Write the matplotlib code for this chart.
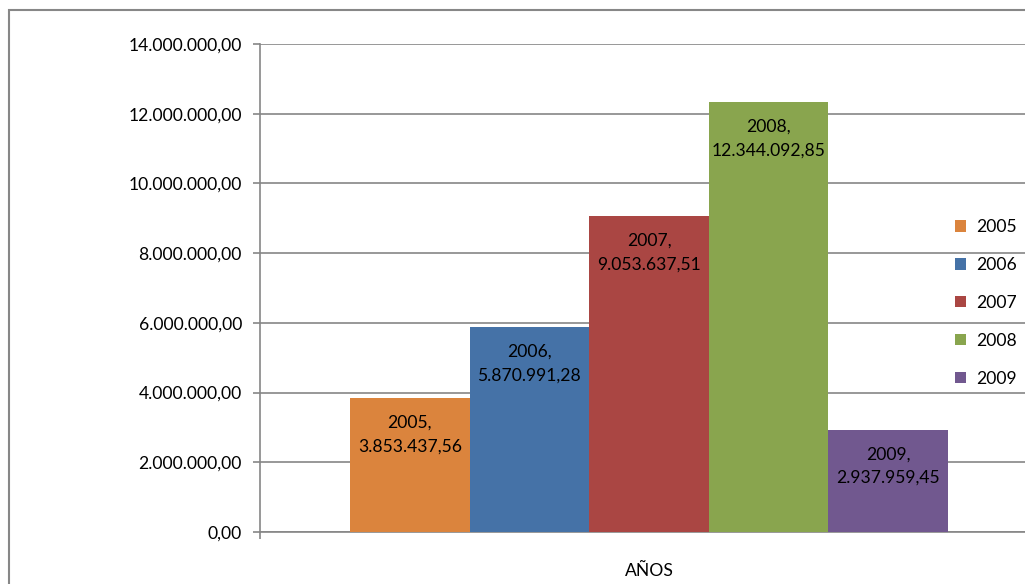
import matplotlib
matplotlib.use("Agg")
import matplotlib.pyplot as plt
from matplotlib.patches import Rectangle
from matplotlib.ticker import FuncFormatter

years = ["2005", "2006", "2007", "2008", "2009"]
values = [3853437.56, 5870991.28, 9053637.51, 12344092.85, 2937959.45]
colors = ["#DB843D", "#4572A7", "#AA4643", "#89A54E", "#71588F"]
category = "AÑOS"
yticks = [0, 2000000, 4000000, 6000000, 8000000, 10000000, 12000000, 14000000]

plt.rcParams['font.family'] = ['Lato', 'DejaVu Sans']

def es_fmt(v, pos=None):
    s = f"{v:,.2f}"
    return s.replace(",", "X").replace(".", ",").replace("X", ".")

W, H = 1025, 584
fig = plt.figure(figsize=(W / 100, H / 100), dpi=100)

# outer chart frame (extends past right/bottom edges)
fig.patches.append(Rectangle((9 / W, -0.05), 1.2, 1 - 10 / H + 0.05,
                             transform=fig.transFigure, fill=False,
                             edgecolor="#878787", linewidth=1.5, zorder=0))

ax_left, ax_right, ax_top, ax_bottom = 260, 1038, 44, 532
ax = fig.add_axes([ax_left / W, (H - ax_bottom) / H,
                   (ax_right - ax_left) / W, (ax_bottom - ax_top) / H])

FS = 12.6
bw = 598 / 778 / 5
for i, (yr, v, c) in enumerate(zip(years, values, colors)):
    x = (i - 2) * bw
    ax.bar(x, v, width=bw, color=c, zorder=3, label=yr)
    ax.annotate(f"{yr},\n{es_fmt(v)}", xy=(x, v), xytext=(0, -12),
                textcoords="offset points", ha="center", va="top",
                fontsize=FS, linespacing=1.6, color="black", zorder=4)

ax.set_xlim(-0.5, 0.5)
ax.set_ylim(0, 14000000)
ax.set_yticks(yticks)
ax.yaxis.set_major_formatter(FuncFormatter(es_fmt))
ax.grid(axis="y", color="#868686", linewidth=1.2, zorder=0)
ax.set_axisbelow(True)

ax.set_xticks([-0.5, 0.5])
ax.set_xticklabels(["", ""])
ax.set_xticks([0], minor=True)
ax.set_xticklabels([category], minor=True)
ax.tick_params(axis="x", which="minor", length=0, pad=22, labelsize=FS)
ax.tick_params(axis="x", which="major", length=5, color="#868686", width=1.2)
ax.tick_params(axis="y", length=5, color="#868686", width=1.2, pad=8, labelsize=FS)

for s in ["top", "right"]:
    ax.spines[s].set_visible(False)
for s in ["left", "bottom"]:
    ax.spines[s].set_color("#868686")
    ax.spines[s].set_linewidth(1.2)

leg = fig.legend(loc="upper left", bbox_to_anchor=(955 / W, 1 - 219 / H),
                 bbox_transform=fig.transFigure, frameon=False, fontsize=FS,
                 handlelength=0.65, handleheight=0.65, handletextpad=0.55,
                 labelspacing=1.25, borderpad=0, borderaxespad=0)

fig.savefig("out.png", dpi=100)
